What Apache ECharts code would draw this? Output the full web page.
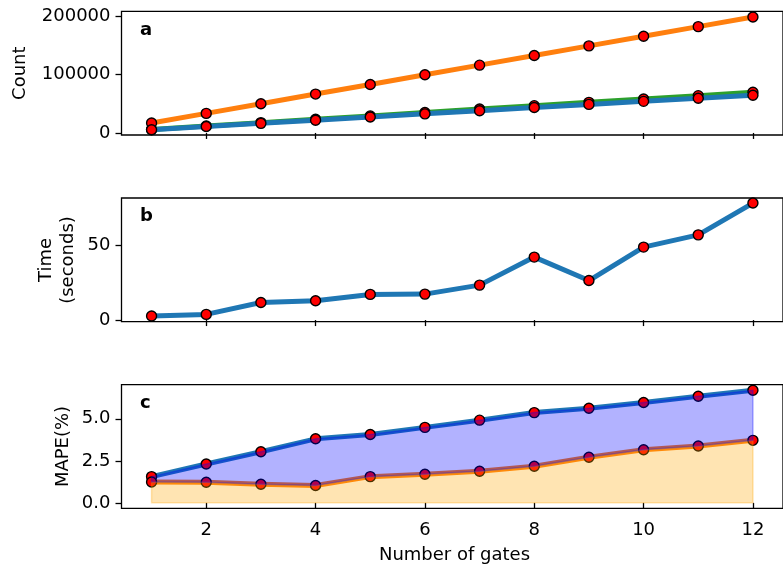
<!DOCTYPE html>
<html>
<head>
<meta charset="utf-8">
<script src="https://cdn.jsdelivr.net/npm/echarts@6/dist/echarts.min.js"></script>
<style>
  html, body { margin: 0; padding: 0; background: #ffffff; }
  #chart { width: 783px; height: 570px; }
</style>
</head>
<body>
<div id="chart"></div>
<script>
// ---- data ----
const gates = [1, 2, 3, 4, 5, 6, 7, 8, 9, 10, 11, 12];

// panel a: counts
const countOrange = [17000, 33400, 49900, 66400, 82800, 99300, 115800, 132200, 148700, 165200, 181600, 198100];
const countGreen  = [6000, 11800, 17600, 23300, 29100, 35000, 40800, 46600, 52300, 58000, 63700, 69400];
const countBlue   = [5500, 11000, 16400, 21800, 27200, 32600, 38000, 43400, 48800, 54000, 59200, 64400];

// panel b: run time in seconds
const timeSeconds = [2.7, 3.8, 11.8, 12.9, 17.2, 17.4, 23.4, 42.2, 26.5, 48.9, 57.1, 78.4];

// panel c: MAPE (%)
const mapeUpper = [1.56, 2.31, 3.04, 3.81, 4.07, 4.49, 4.92, 5.37, 5.63, 5.97, 6.34, 6.70];
const mapeLower = [1.24, 1.23, 1.11, 1.03, 1.56, 1.70, 1.88, 2.18, 2.71, 3.16, 3.38, 3.72];

// tick labels
const xTicks = [2, 4, 6, 8, 10, 12];
const countTicks = [0, 100000, 200000];
const timeTicks = [0, 50];
const mapeTicks = [0, 2.5, 5.0];

// ---- styling ----
const FONT = '"DejaVu Sans", sans-serif';
const FS = 18;
const C_BLUE = '#1f77b4';
const C_ORANGE = '#ff7f0e';
const C_GREEN = '#2ca02c';

const panelTops = [11.3, 198.0, 384.7];
const panelHeight = 123.7;
const yRanges = [
  { min: -3500, max: 207800, ticks: countTicks, fmt: v => String(v) },
  { min: -1.1, max: 81.8, ticks: timeTicks, fmt: v => String(v) },
  { min: -0.33, max: 7.03, ticks: mapeTicks, fmt: v => Number(v).toFixed(1) }
];

const pairs = arr => gates.map((g, i) => [g, arr[i]]);

function lineSeries(idx, values, color, z) {
  return {
    type: 'line',
    xAxisIndex: idx,
    yAxisIndex: idx,
    data: pairs(values),
    z: z,
    symbol: 'circle',
    symbolSize: 10,
    showAllSymbol: true,
    clip: false,
    lineStyle: { color: color, width: 5, cap: 'butt', join: 'round' },
    itemStyle: { color: '#ff0000', borderColor: '#000000', borderWidth: 1.4, opacity: 1 },
    emphasis: { disabled: true },
    silent: true
  };
}

// filled band between two curves (lower may be null for the zero baseline)
function bandSeries(lowerArr, upperArr, color) {
  return {
    type: 'custom',
    xAxisIndex: 2,
    yAxisIndex: 2,
    z: 5,
    silent: true,
    data: gates.map((g, i) => [g, lowerArr ? lowerArr[i] : 0, upperArr[i]]),
    renderItem: function (params, api) {
      if (params.dataIndex !== 0) return;
      const top = gates.map((g, i) => api.coord([g, upperArr[i]]));
      const bottom = gates.map((g, i) => api.coord([g, lowerArr ? lowerArr[i] : 0])).reverse();
      return {
        type: 'polygon',
        shape: { points: top.concat(bottom) },
        style: { fill: color, stroke: color, lineWidth: 1.5 }
      };
    }
  };
}

const chart = echarts.init(document.getElementById('chart'), null, { renderer: 'canvas' });

const option = {
  animation: false,
  backgroundColor: '#ffffff',
  textStyle: { fontFamily: FONT },
  grid: panelTops.map(t => ({
    left: 121.5, right: -4, top: t, height: panelHeight,
    show: true, borderColor: '#000000', borderWidth: 1.3, backgroundColor: 'transparent',
    containLabel: false
  })),
  xAxis: [0, 1, 2].map(i => ({
    type: 'value',
    gridIndex: i,
    min: 0.45,
    max: 12.55,
    axisLine: { show: false },
    axisTick: { show: true, customValues: xTicks, length: 6, lineStyle: { color: '#000000', width: 1.3 } },
    axisLabel: {
      show: i === 2, customValues: xTicks, fontSize: FS, color: '#000000',
      fontFamily: FONT, margin: 13
    },
    splitLine: { show: false }
  })),
  yAxis: [0, 1, 2].map(i => ({
    type: 'value',
    gridIndex: i,
    min: yRanges[i].min,
    max: yRanges[i].max,
    axisLine: { show: false },
    axisTick: { show: true, customValues: yRanges[i].ticks, length: 6, lineStyle: { color: '#000000', width: 1.3 } },
    axisLabel: {
      show: true, customValues: yRanges[i].ticks, fontSize: FS, color: '#000000',
      fontFamily: FONT, margin: 11, formatter: yRanges[i].fmt
    },
    splitLine: { show: false }
  })),
  graphic: [
    { type: 'text', x: 20.5, y: 73.2, rotation: Math.PI / 2,
      style: { text: 'Count', fill: '#000', font: FS + 'px ' + FONT, align: 'center', verticalAlign: 'middle' } },
    { type: 'text', x: 57.5, y: 260, rotation: Math.PI / 2,
      style: { text: 'Time\n(seconds)', fill: '#000', font: FS + 'px ' + FONT, align: 'center', verticalAlign: 'middle', lineHeight: 21.5 } },
    { type: 'text', x: 63, y: 446.5, rotation: Math.PI / 2,
      style: { text: 'MAPE(%)', fill: '#000', font: FS + 'px ' + FONT, align: 'center', verticalAlign: 'middle' } },
    { type: 'text', x: 454.5, y: 555,
      style: { text: 'Number of gates', fill: '#000', font: FS + 'px ' + FONT, align: 'center', verticalAlign: 'middle' } },
    { type: 'text', x: 140, y: 30,
      style: { text: 'a', fill: '#000', font: 'bold ' + FS + 'px ' + FONT, align: 'left', verticalAlign: 'middle' } },
    { type: 'text', x: 140, y: 216,
      style: { text: 'b', fill: '#000', font: 'bold ' + FS + 'px ' + FONT, align: 'left', verticalAlign: 'middle' } },
    { type: 'text', x: 140, y: 403,
      style: { text: 'c', fill: '#000', font: 'bold ' + FS + 'px ' + FONT, align: 'left', verticalAlign: 'middle' } }
  ],
  series: [
    lineSeries(0, countGreen, C_GREEN, 2),
    lineSeries(0, countOrange, C_ORANGE, 3),
    lineSeries(0, countBlue, C_BLUE, 4),
    lineSeries(1, timeSeconds, C_BLUE, 2),
    lineSeries(2, mapeUpper, C_BLUE, 2),
    lineSeries(2, mapeLower, C_ORANGE, 3),
    bandSeries(null, mapeLower, 'rgba(255,165,0,0.3)'),
    bandSeries(mapeLower, mapeUpper, 'rgba(0,0,255,0.3)')
  ]
};

chart.setOption(option);
</script>
</body>
</html>
